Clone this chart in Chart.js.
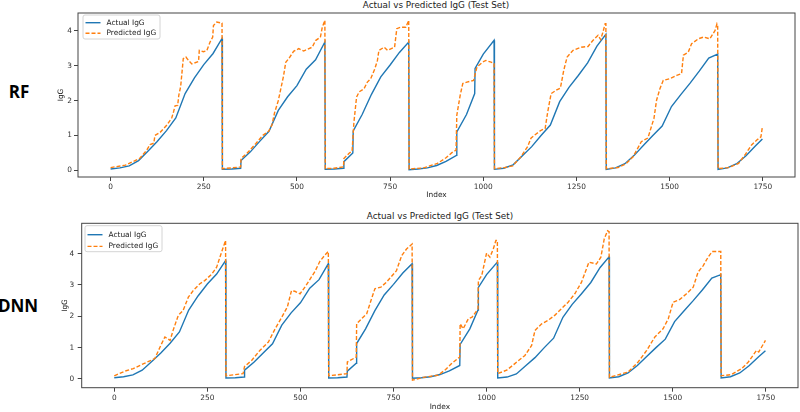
<!DOCTYPE html>
<html>
<head>
<meta charset="utf-8">
<script src="https://cdn.jsdelivr.net/npm/chart.js@4.4.1/dist/chart.umd.min.js"></script>
<style>
  html, body { margin: 0; padding: 0; background: #fff; }
  body { width: 800px; height: 412px; position: relative; overflow: hidden; font-family: "DejaVu Sans", sans-serif; }
  .panel { position: absolute; left: 40px; width: 760px; }
  #rfWrap { top: 0; height: 205px; }
  #dnnWrap { top: 205px; height: 207px; }
  .title { position: absolute; font-size: 8.8px; color: #222; white-space: nowrap; transform: translate(-50%, -50%); }
  .model { position: absolute; font-family: "Open Sans", sans-serif; font-weight: 700; font-size: 17px; color: #000; transform: translate(-50%, -50%); }
</style>
</head>
<body>
<div class="model" style="left:19px; top:91px">RF</div>
<div class="model" style="left:18px; top:305px">DNN</div>
<div class="title" style="left:436px; top:5px">Actual vs Predicted IgG (Test Set)</div>
<div class="title" style="left:440px; top:216px">Actual vs Predicted IgG (Test Set)</div>
<div id="rfWrap" class="panel"><canvas id="rf"></canvas></div>
<div id="dnnWrap" class="panel"><canvas id="dnn"></canvas></div>

<script>
// tick labels
const xTicks = [0, 250, 500, 750, 1000, 1250, 1500, 1750];
const yTicks = [0, 1, 2, 3, 4];

// actual IgG (same test set in both panels)
const actualIndex = [
  0, 25, 50, 75, 100, 125, 150, 175, 200, 225, 250, 275, 299,
  300, 325, 349, 350, 375, 400, 425, 450, 475, 500, 525, 550, 575,
  576, 600, 625, 626, 650, 651, 675, 700, 725, 750, 775, 800,
  801, 825, 850, 875, 900, 928, 929, 955, 977, 978, 1000, 1029,
  1030, 1055, 1080, 1105, 1130, 1155, 1180, 1205, 1230, 1255, 1280, 1305, 1329,
  1330, 1355, 1380, 1405, 1430, 1455, 1480, 1505, 1530, 1555, 1580, 1605, 1629,
  1630, 1655, 1680, 1705, 1730, 1749
];
const actualIgG = [
  0.04, 0.07, 0.13, 0.28, 0.55, 0.83, 1.14, 1.5, 2.2, 2.65, 3.03, 3.35, 3.78,
  0.03, 0.04, 0.06, 0.28, 0.53, 0.83, 1.12, 1.72, 2.11, 2.43, 2.9, 3.17, 3.68,
  0.03, 0.04, 0.06, 0.25, 0.5, 1.13, 1.6, 2.18, 2.68, 3.02, 3.38, 3.68,
  0.02, 0.04, 0.07, 0.14, 0.26, 0.43, 1.1, 1.6, 2.2, 2.92, 3.33, 3.73,
  0.03, 0.06, 0.16, 0.42, 0.68, 1.0, 1.3, 1.97, 2.38, 2.72, 3.08, 3.56, 3.9,
  0.03, 0.07, 0.19, 0.43, 0.72, 1.0, 1.27, 1.83, 2.17, 2.5, 2.85, 3.22, 3.33,
  0.03, 0.07, 0.19, 0.42, 0.7, 0.9
];

// RF predictions
const rfIndex = [
  0, 40, 78, 97, 106, 116, 119, 133, 151, 164, 169, 173, 180, 183, 188, 195, 202, 209, 218, 236, 238, 249, 258, 267, 274, 276, 285, 299,
  300, 325, 349, 350, 366, 390, 408, 424, 433, 440, 450, 458, 464, 470, 478, 491, 505, 518, 541, 550, 563, 568, 575,
  576, 600, 625, 626, 640, 648, 653, 660, 667, 680, 689, 698, 709, 716, 720, 734, 743, 762, 768, 778, 792, 800,
  801, 840, 877, 900, 915, 927, 929, 938, 945, 956, 974, 983, 998, 1007, 1021, 1029,
  1030, 1057, 1079, 1101, 1119, 1128, 1140, 1155, 1166, 1173, 1182, 1196, 1207, 1216, 1225, 1241, 1263, 1281, 1294, 1308, 1315, 1321, 1327, 1329,
  1330, 1362, 1384, 1402, 1424, 1442, 1451, 1458, 1465, 1474, 1483, 1501, 1519, 1532, 1537, 1550, 1559, 1577, 1591, 1608, 1622, 1627, 1629,
  1630, 1658, 1685, 1702, 1720, 1734, 1745, 1749
];
const rfIgG = [
  0.08, 0.15, 0.34, 0.58, 0.74, 0.78, 1.0, 1.09, 1.3, 1.5, 1.68, 1.85, 1.86, 2.15, 2.4, 3.2, 3.25, 3.15, 3.05, 3.12, 3.44, 3.4, 3.43, 3.68, 3.82, 4.15, 4.25, 4.22,
  0.05, 0.07, 0.1, 0.34, 0.49, 0.77, 1.0, 1.12, 1.3, 1.65, 2.0, 2.4, 2.7, 3.1, 3.2, 3.41, 3.49, 3.42, 3.53, 3.72, 3.82, 4.1, 4.3,
  0.05, 0.06, 0.1, 0.34, 0.49, 0.55, 1.39, 2.1, 2.25, 2.34, 2.53, 2.63, 2.91, 3.15, 3.44, 3.53, 3.44, 3.53, 4.06, 4.1, 4.1, 4.3,
  0.04, 0.07, 0.2, 0.36, 0.5, 0.58, 1.58, 2.15, 2.49, 2.53, 2.58, 2.96, 3.1, 3.15, 3.1, 3.06,
  0.05, 0.08, 0.13, 0.39, 0.68, 0.92, 1.03, 1.15, 1.2, 1.68, 2.2, 2.3, 2.36, 2.87, 3.25, 3.44, 3.53, 3.55, 3.72, 3.87, 3.75, 3.96, 4.2, 4.2,
  0.05, 0.08, 0.2, 0.39, 0.82, 0.93, 1.25, 1.49, 2.01, 2.34, 2.58, 2.63, 2.72, 2.77, 3.3, 3.39, 3.63, 3.77, 3.82, 3.77, 4.01, 4.2, 4.15,
  0.05, 0.08, 0.2, 0.44, 0.73, 0.87, 0.96, 1.25
];

// DNN predictions
const dnnIndex = [
  0, 29, 51, 74, 100, 109, 123, 136, 150, 158, 172, 185, 199, 212, 230, 243, 262, 275, 288, 299,
  300, 346, 350, 369, 391, 414, 432, 449, 465, 476, 485, 499, 512, 526, 539, 552, 566, 575,
  576, 625, 626, 650, 651, 664, 678, 691, 700, 716, 731, 745, 758, 772, 785, 800,
  801, 830, 870, 890, 906, 928, 929, 937, 951, 961, 977, 978, 987, 1000, 1009, 1018, 1025, 1029,
  1030, 1054, 1076, 1103, 1121, 1130, 1148, 1165, 1183, 1201, 1219, 1237, 1255, 1275, 1295, 1307, 1316, 1325, 1329,
  1330, 1344, 1380, 1407, 1430, 1452, 1474, 1488, 1501, 1519, 1537, 1555, 1568, 1582, 1595, 1606, 1629,
  1630, 1658, 1685, 1703, 1725, 1731, 1749
];
const dnnIgG = [
  0.1, 0.25, 0.33, 0.46, 0.6, 0.65, 1.02, 1.34, 1.23, 1.55, 2.03, 2.19, 2.61, 2.82, 3.04, 3.14, 3.35, 3.57, 4.04, 4.42,
  0.1, 0.17, 0.4, 0.59, 0.91, 1.18, 1.6, 1.95, 2.3, 2.82, 2.8, 2.72, 2.93, 3.19, 3.43, 3.75, 3.96, 4.07,
  0.1, 0.17, 0.54, 0.7, 1.76, 1.92, 2.08, 2.56, 2.88, 2.93, 3.09, 3.28, 3.46, 3.94, 4.15, 4.31,
  -0.04, 0.05, 0.12, 0.3, 0.49, 0.7, 1.76, 1.6, 1.92, 1.97, 2.24, 3.14, 3.3, 4.02, 3.89, 4.15, 4.42, 4.42,
  0.17, 0.28, 0.49, 0.75, 1.07, 1.55, 1.76, 1.87, 2.03, 2.24, 2.45, 2.72, 3.09, 3.73, 3.67, 3.89, 4.47, 4.73, 4.7,
  0.05, 0.1, 0.22, 0.54, 0.91, 1.34, 1.6, 1.92, 2.45, 2.54, 2.72, 2.93, 3.41, 3.62, 3.89, 4.07, 4.07,
  0.1, 0.14, 0.33, 0.54, 0.91, 0.86, 1.23
];

Chart.defaults.font.family = "'DejaVu Sans', sans-serif";
Chart.defaults.font.size = 7.4;
Chart.defaults.color = "#333";

const toPoints = (xs, ys) => xs.map((x, i) => ({ x, y: ys[i] }));

// matplotlib-like box round the axes
const framePlugin = {
  id: "frame",
  afterDatasetsDraw(chart) {
    const { ctx, chartArea: a } = chart;
    ctx.save();
    ctx.strokeStyle = "#444";
    ctx.lineWidth = 1;
    ctx.strokeRect(a.left, a.top, a.right - a.left, a.bottom - a.top);
    ctx.restore();
  },
};

// legend drawn inside the axes, upper left
const boxLegend = {
  id: "boxLegend",
  afterDatasetsDraw(chart, args, opts) {
    const { ctx, chartArea: a } = chart;
    const x = a.left + opts.dx;
    const y = a.top + opts.dy;
    ctx.save();
    ctx.fillStyle = "rgba(255,255,255,0.85)";
    ctx.strokeStyle = "#d4d4d4";
    ctx.lineWidth = 1;
    ctx.beginPath();
    ctx.roundRect(x, y, 77, opts.h, 2);
    ctx.fill();
    ctx.stroke();
    chart.data.datasets.forEach((ds, i) => {
      const rowY = y + opts.row0 + i * opts.gap;
      ctx.strokeStyle = ds.borderColor;
      ctx.lineWidth = ds.borderWidth;
      ctx.setLineDash(ds.borderDash || []);
      ctx.beginPath();
      ctx.moveTo(x + 2.5, rowY);
      ctx.lineTo(x + 17.5, rowY);
      ctx.stroke();
      ctx.setLineDash([]);
      ctx.fillStyle = "#222";
      ctx.font = "7.4px 'DejaVu Sans', sans-serif";
      ctx.textBaseline = "middle";
      ctx.fillText(ds.label, x + 23.5, rowY);
    });
    ctx.restore();
  },
};

function makeChart(canvas, predIndex, predIgG, L) {
  return new Chart(canvas, {
    type: "line",
    data: {
      datasets: [
        {
          label: "Actual IgG",
          data: toPoints(actualIndex, actualIgG),
          borderColor: "#1f77b4",
          borderWidth: 1.4,
          pointRadius: 0,
          tension: 0,
          order: 1,
        },
        {
          label: "Predicted IgG",
          data: toPoints(predIndex, predIgG),
          borderColor: "#ff7f0e",
          borderWidth: 1.4,
          borderDash: [4, 2],
          pointRadius: 0,
          tension: 0,
          order: 0,
        },
      ],
    },
    options: {
      responsive: true,
      maintainAspectRatio: false,
      animation: false,
      events: [],
      layout: { padding: { top: L.padTop, right: L.padRight, left: 0, bottom: 0 } },
      plugins: {
        legend: { display: false },
        tooltip: { enabled: false },
        boxLegend: L.legend,
      },
      scales: {
        x: {
          type: "linear",
          min: -87.45,
          max: 1836.45,
          afterBuildTicks: (s) => { s.ticks = xTicks.map((v) => ({ value: v })); },
          afterFit: (s) => { s.height = L.xAxisHeight; },
          grid: { display: true, drawOnChartArea: false, drawTicks: true, tickLength: 4, color: "#444" },
          border: { display: false },
          ticks: { padding: L.xTickPad, maxRotation: 0, autoSkip: false, callback: (v) => String(v) },
          title: { display: true, text: "Index", color: "#222", padding: { top: 0, bottom: L.xTitlePad } },
        },
        y: {
          type: "linear",
          min: L.yMin,
          max: L.yMax,
          afterBuildTicks: (s) => { s.ticks = yTicks.map((v) => ({ value: v })); },
          afterFit: (s) => { s.width = L.yAxisWidth; },
          grid: { display: true, drawOnChartArea: false, drawTicks: true, tickLength: 4, color: "#444" },
          border: { display: false },
          ticks: { padding: L.yTickPad, callback: (v) => String(v) },
          title: { display: true, text: "IgG", color: "#222", padding: { top: L.yTitlePad, bottom: 0 } },
        },
      },
    },
    plugins: [framePlugin, boxLegend],
  });
}

makeChart(document.getElementById("rf"), rfIndex, rfIgG, {
  padTop: 13, padRight: 5, xAxisHeight: 28, yAxisWidth: 38,
  yMin: -0.19, yMax: 4.51,
  xTickPad: 1.5, xTitlePad: 5.5, yTickPad: 2, yTitlePad: 16.5,
  legend: { dx: 5, dy: 2, h: 24, row0: 7.7, gap: 10.6 },
});

makeChart(document.getElementById("dnn"), dnnIndex, dnnIgG, {
  padTop: 18.3, padRight: 2, xAxisHeight: 24.3, yAxisWidth: 41.7,
  yMin: -0.28, yMax: 4.97,
  xTickPad: 2, xTitlePad: 0, yTickPad: 3.5, yTitlePad: 20.5,
  legend: { dx: 3.3, dy: 2.4, h: 26, row0: 9, gap: 11.7 },
});
</script>
</body>
</html>
